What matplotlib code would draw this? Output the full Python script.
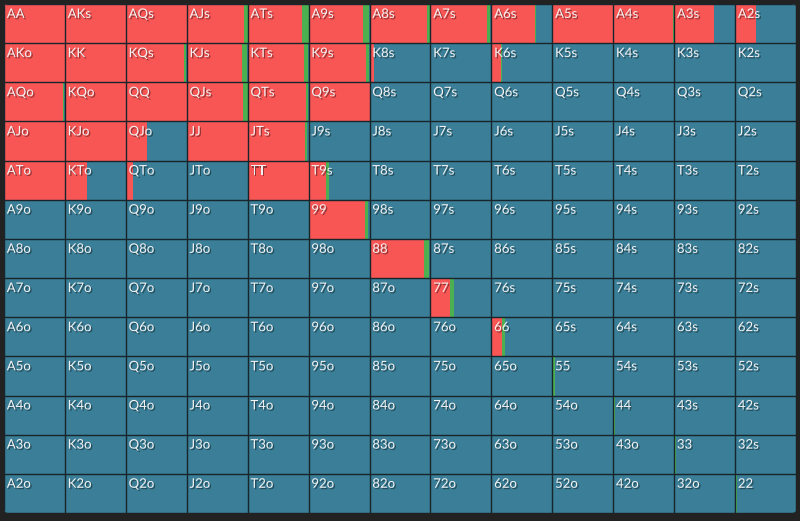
import matplotlib
matplotlib.use("Agg")
import matplotlib.pyplot as plt
import matplotlib.patheffects as pe
from matplotlib.patches import FancyBboxPatch

ranks = ["A", "K", "Q", "J", "T", "9", "8", "7", "6", "5", "4", "3", "2"]

# raise (red) frequency per cell, rows = first rank, cols = second rank
raise_freq = [
    [1.00, 1.00, 1.00, 0.94, 0.89, 0.90, 0.95, 0.92, 0.71, 1.00, 0.98, 0.66, 0.34],
    [1.00, 1.00, 0.95, 0.90, 0.92, 0.95, 0.07, 0.00, 0.16, 0.00, 0.00, 0.00, 0.00],
    [0.97, 1.00, 1.00, 0.92, 0.95, 1.00, 0.00, 0.00, 0.00, 0.00, 0.00, 0.00, 0.00],
    [1.00, 1.00, 0.35, 1.00, 0.94, 0.00, 0.00, 0.00, 0.00, 0.00, 0.00, 0.00, 0.00],
    [1.00, 0.36, 0.12, 0.00, 1.00, 0.29, 0.00, 0.00, 0.00, 0.00, 0.00, 0.00, 0.00],
    [0.00, 0.00, 0.00, 0.00, 0.00, 0.93, 0.00, 0.00, 0.00, 0.00, 0.00, 0.00, 0.00],
    [0.00, 0.00, 0.00, 0.00, 0.00, 0.00, 0.90, 0.00, 0.00, 0.00, 0.00, 0.00, 0.00],
    [0.00, 0.00, 0.00, 0.00, 0.00, 0.00, 0.00, 0.32, 0.00, 0.00, 0.00, 0.00, 0.00],
    [0.00, 0.00, 0.00, 0.00, 0.00, 0.00, 0.00, 0.00, 0.17, 0.00, 0.00, 0.00, 0.00],
    [0.00, 0.00, 0.00, 0.00, 0.00, 0.00, 0.00, 0.00, 0.00, 0.00, 0.00, 0.00, 0.00],
    [0.00, 0.00, 0.00, 0.00, 0.00, 0.00, 0.00, 0.00, 0.00, 0.00, 0.00, 0.00, 0.00],
    [0.00, 0.00, 0.00, 0.00, 0.00, 0.00, 0.00, 0.00, 0.00, 0.00, 0.00, 0.00, 0.00],
    [0.00, 0.00, 0.00, 0.00, 0.00, 0.00, 0.00, 0.00, 0.00, 0.00, 0.00, 0.00, 0.00],
]

# call (green) frequency per cell
call_freq = [
    [0.00, 0.00, 0.00, 0.06, 0.11, 0.09, 0.04, 0.05, 0.02, 0.00, 0.02, 0.00, 0.00],
    [0.00, 0.00, 0.03, 0.09, 0.07, 0.04, 0.00, 0.00, 0.02, 0.00, 0.00, 0.00, 0.00],
    [0.02, 0.00, 0.00, 0.08, 0.04, 0.00, 0.00, 0.00, 0.00, 0.00, 0.00, 0.00, 0.00],
    [0.00, 0.00, 0.00, 0.00, 0.04, 0.00, 0.00, 0.00, 0.00, 0.00, 0.00, 0.00, 0.00],
    [0.00, 0.00, 0.00, 0.00, 0.00, 0.04, 0.00, 0.00, 0.00, 0.00, 0.00, 0.00, 0.00],
    [0.00, 0.00, 0.00, 0.00, 0.00, 0.04, 0.00, 0.00, 0.00, 0.00, 0.00, 0.00, 0.00],
    [0.00, 0.00, 0.00, 0.00, 0.00, 0.00, 0.08, 0.00, 0.00, 0.00, 0.00, 0.00, 0.00],
    [0.00, 0.00, 0.00, 0.00, 0.00, 0.00, 0.00, 0.07, 0.00, 0.00, 0.00, 0.00, 0.00],
    [0.00, 0.00, 0.00, 0.00, 0.00, 0.00, 0.00, 0.00, 0.05, 0.00, 0.00, 0.00, 0.00],
    [0.00, 0.00, 0.00, 0.00, 0.00, 0.00, 0.00, 0.00, 0.00, 0.045, 0.00, 0.00, 0.00],
    [0.00, 0.00, 0.00, 0.00, 0.00, 0.00, 0.00, 0.00, 0.00, 0.00, 0.03, 0.00, 0.00],
    [0.00, 0.00, 0.00, 0.00, 0.00, 0.00, 0.00, 0.00, 0.00, 0.00, 0.00, 0.03, 0.00],
    [0.00, 0.00, 0.00, 0.00, 0.00, 0.00, 0.00, 0.00, 0.00, 0.00, 0.00, 0.00, 0.025],
]

RED = "#f85555"
GREEN = "#4caf50"
BLUE = "#3a7e97"
LINE = "#18252b"
BG = "#222222"

n = len(ranks)
fig = plt.figure(figsize=(8.0, 5.21), dpi=100, facecolor=BG)
ax = fig.add_axes([4 / 800, 8 / 521, 792 / 800, 509 / 521])
ax.set_facecolor(BG)
ax.set_xlim(0, n)
ax.set_ylim(n, 0)
ax.axis("off")

clip = FancyBboxPatch((0, 0), n, n, boxstyle="round,pad=0,rounding_size=0.08",
                      transform=ax.transData, facecolor="none", edgecolor="none")
ax.add_patch(clip)

artists = []
for r in range(n):
    rows = [r] * n
    lefts = list(range(n))
    reds = raise_freq[r]
    greens = call_freq[r]
    blues = [1 - a - b for a, b in zip(reds, greens)]
    b1 = ax.barh(rows, reds, left=lefts, height=1.0, color=RED, align="edge", linewidth=0)
    l2 = [c + a for c, a in zip(lefts, reds)]
    b2 = ax.barh(rows, greens, left=l2, height=1.0, color=GREEN, align="edge", linewidth=0)
    l3 = [c + g for c, g in zip(l2, greens)]
    b3 = ax.barh(rows, blues, left=l3, height=1.0, color=BLUE, align="edge", linewidth=0)
    artists += list(b1) + list(b2) + list(b3)

for k in range(n + 1):
    artists.append(ax.axvline(k, color=LINE, lw=1.0))
    artists.append(ax.axhline(k, color=LINE, lw=1.0))

for a in artists:
    a.set_clip_path(clip)

for r in range(n):
    for c in range(n):
        if r == c:
            lab = ranks[r] + ranks[c]
        elif c > r:
            lab = ranks[r] + ranks[c] + "s"
        else:
            lab = ranks[c] + ranks[r] + "o"
        t = ax.text(c + 0.045, r + 0.1, lab, ha="left", va="top",
                    fontsize=9.5, color="#f2f2f2", family=["Lato", "DejaVu Sans"])
        t.set_path_effects([pe.withSimplePatchShadow(offset=(1, -1), shadow_rgbFace="#000000", alpha=0.4)])

fig.savefig("out.png", dpi=100, facecolor=BG)
